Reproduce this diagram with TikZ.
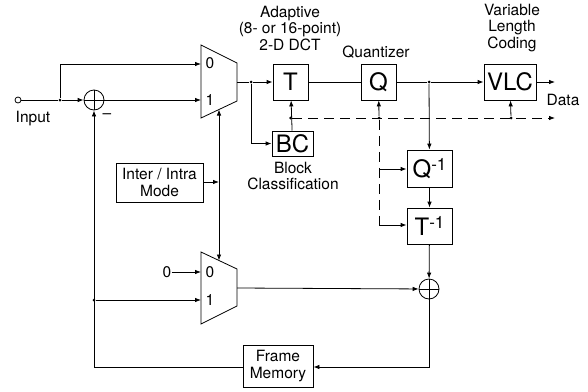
\documentclass[tikz,border=0pt]{standalone}
\usepackage{fontspec}
\setmainfont{TeX Gyre Heros}
\usetikzlibrary{arrows.meta}
\begin{document}
\begin{tikzpicture}[x=1pt,y=-1pt, line width=0.8pt,
 >={Latex[length=6pt,width=4.5pt]},
 blk/.style={draw, inner sep=0, font=\fontsize{24}{24}\selectfont},
 lbl/.style={font=\fontsize{15.5}{16.5}\selectfont, align=center, inner sep=0},
 sumc/.style={circle, draw, minimum size=20pt, inner sep=0,
   path picture={\draw[line width=0.8pt] (path picture bounding box.north) -- (path picture bounding box.south)
     (path picture bounding box.west) -- (path picture bounding box.east);}},
 dot/.style={circle, fill, inner sep=0, minimum size=3pt},
 dsh/.style={dash pattern=on 10pt off 6pt}]
\useasboundingbox (0,0) rectangle (588,391);

% input
\node[circle, draw, inner sep=0, minimum size=6pt] (in) at (18,100) {};
\node[lbl] (inlbl) at (33,119) {Input};
\node[dot] (j1) at (60,100) {};
\node[sumc] (add1) at (94,100) {};
\node[lbl] (minus) at (107,116) {--};

% upper mux
\draw (201,45) -- (237,63) -- (237,101) -- (201,118) -- cycle;
\coordinate (m1i0) at (201,64);
\coordinate (m1i1) at (201,100);
\coordinate (m1o) at (237,82);
\coordinate (m1c) at (219,109.5);
\node[lbl] (m1l0) at (210,63) {0};
\node[lbl] (m1l1) at (210,100) {1};

% lower mux
\draw (201,252) -- (237,269) -- (237,306) -- (201,324) -- cycle;
\coordinate (m2i0) at (201,272);
\coordinate (m2i1) at (201,300);
\coordinate (m2o) at (237,288);
\coordinate (m2c) at (219,260.5);
\node[lbl] (m2l0) at (210,272) {0};
\node[lbl] (m2l1) at (210,300) {1};
\node[lbl] (zero) at (167,272) {0};

% blocks
\node[dot] (j2) at (251,82) {};
\node[blk, minimum width=35pt, minimum height=36pt] (T) at (290.5,82) {T};
\node[blk, minimum width=35pt, minimum height=36pt] (Q) at (378.5,82) {Q};
\node[dot] (j3) at (429,82) {};
\node[blk, minimum width=52pt, minimum height=36pt] (VLC) at (510,82) {VLC};
\node[blk, minimum width=41pt, minimum height=25pt] (BC) at (292.5,143.5) {BC};
\node[blk, minimum width=45pt, minimum height=37pt] (IQ) at (429.5,168.5) {Q\raisebox{7pt}{\fontsize{17}{17}\selectfont -1}};
\node[blk, minimum width=45pt, minimum height=36pt] (IT) at (429.5,226) {T\raisebox{7pt}{\fontsize{17}{17}\selectfont -1}};
\node[sumc] (add2) at (429,289) {};
\node[draw, lbl, minimum width=70pt, minimum height=42pt] (FM) at (278,366) {Frame\\Memory};
\node[draw, lbl, minimum width=87pt, minimum height=39pt] (IIM) at (159.5,182.5) {Inter / Intra\\Mode};

% labels
\node[lbl] (dctl) at (290,28) {Adaptive\\(8- or 16-point)\\2-D DCT};
\node[lbl] (ql) at (376,52) {Quantizer};
\node[lbl] (vlcl) at (512,28) {Variable\\Length\\Coding};
\node[lbl] (bcl) at (293,176) {Block\\Classification};
\node[lbl] (datal) at (563,100) {Data};

% coordinates
\coordinate (dataend) at (555,82);
\node[dot] (d1) at (290.5,118) {};
\node[dot] (d2) at (379,118) {};
\node[dot] (d3) at (511,118) {};
\coordinate (dend) at (555,118);
\coordinate (dv) at (379,225);
\coordinate (dq) at (379,169);
\coordinate (ctl) at (219,182);
\coordinate (bcc) at (251,143.5);
\coordinate (fr) at (429,367);
\coordinate (fl) at (94,367);
\node[dot] (j4) at (94,300) {};

% connections
\draw (in) -- (j1);
\draw[->] (j1) -- (add1);
\draw[->] (j1) |- (m1i0);
\draw[->] (add1) -- (m1i1);
\draw (m1o) -- (j2);
\draw[->] (j2) -- (T);
\draw[->] (j2) |- (BC);
\draw (T) -- (Q);
\draw (Q) -- (j3);
\draw[->] (j3) -- (VLC);
\draw[->] (VLC) -- (dataend);
\draw[->] (BC) -- (T);
\draw[->] (d2) -- (Q);
\draw[->] (d3) -- (VLC);
\draw[->, dsh] (d1) -- (dend);
\draw[dsh] (d2) -- (dv);
\draw[->] (dq) -- (IQ.west |- dq);
\draw[->] (dv) -- (IT.west |- dv);
\draw[->] (j3) -- (IQ);
\draw[->] (IQ) -- (IT);
\draw[->] (IT) -- (add2);
\draw[->] (m2o) -- (add2);
\draw[->] (IIM.east |- ctl) -- (ctl);
\draw[->] (ctl) -- (m1c);
\draw[->] (ctl) -- (m2c);
\draw[->] (zero) -- (m2i0);
\draw[->] (add2) |- (FM.east |- fr);
\draw (FM.west |- fl) -- (fl);
\draw[->] (fl) -- (add1);
\draw[->] (j4) -- (m2i1);
\end{tikzpicture}
\end{document}
